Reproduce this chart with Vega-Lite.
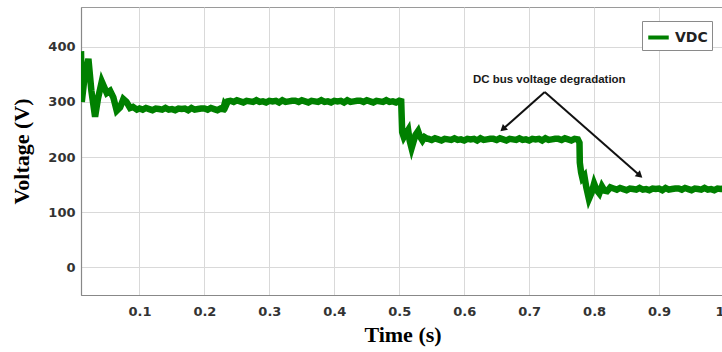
{
  "$schema": "https://vega.github.io/schema/vega-lite/v6.json",
  "width": 643,
  "height": 288,
  "autosize": {"type": "none"},
  "padding": {"left": 81, "top": 7, "right": 0, "bottom": 57},
  "background": "white",
  "config": {
    "view": {"stroke": "#9a9a9a", "strokeWidth": 1},
    "axis": {
      "grid": true,
      "gridColor": "#d9d9d9",
      "gridWidth": 1,
      "domainColor": "#888888",
      "domainWidth": 1.2,
      "ticks": false,
      "labelFont": "DejaVu Sans",
      "labelFontWeight": "bold",
      "labelFontSize": 13,
      "labelColor": "#333333",
      "titleFont": "Liberation Serif",
      "titleFontWeight": "bold",
      "titleFontSize": 22,
      "titleColor": "#000000"
    }
  },
  "datasets": {
    "vdc": [
      {"t": 0.0100, "v": 392}, {"t": 0.0112, "v": 300}, {"t": 0.0150, "v": 340}, {"t": 0.0214, "v": 378},
      {"t": 0.0260, "v": 320}, {"t": 0.0317, "v": 273}, {"t": 0.0360, "v": 305}, {"t": 0.0420, "v": 337},
      {"t": 0.0497, "v": 316}, {"t": 0.0548, "v": 320}, {"t": 0.0598, "v": 308}, {"t": 0.0650, "v": 284},
      {"t": 0.0702, "v": 290}, {"t": 0.0752, "v": 305}, {"t": 0.0800, "v": 300}, {"t": 0.0855, "v": 289},
      {"t": 0.0900, "v": 291}, {"t": 0.0960, "v": 286},
      {"t": 0.100, "v": 288}, {"t": 0.105, "v": 286}, {"t": 0.110, "v": 289}, {"t": 0.115, "v": 287},
      {"t": 0.120, "v": 285}, {"t": 0.125, "v": 288}, {"t": 0.130, "v": 287}, {"t": 0.135, "v": 286},
      {"t": 0.140, "v": 289}, {"t": 0.145, "v": 286}, {"t": 0.150, "v": 287}, {"t": 0.155, "v": 285},
      {"t": 0.160, "v": 288}, {"t": 0.165, "v": 287}, {"t": 0.170, "v": 288}, {"t": 0.175, "v": 285},
      {"t": 0.180, "v": 289}, {"t": 0.185, "v": 286}, {"t": 0.190, "v": 287}, {"t": 0.195, "v": 288},
      {"t": 0.200, "v": 288}, {"t": 0.205, "v": 286}, {"t": 0.210, "v": 289}, {"t": 0.215, "v": 287},
      {"t": 0.220, "v": 285}, {"t": 0.225, "v": 288}, {"t": 0.229, "v": 287},
      {"t": 0.231, "v": 296}, {"t": 0.233, "v": 293}, {"t": 0.236, "v": 301},
      {"t": 0.240, "v": 302}, {"t": 0.245, "v": 300}, {"t": 0.250, "v": 303}, {"t": 0.255, "v": 301},
      {"t": 0.260, "v": 299}, {"t": 0.265, "v": 302}, {"t": 0.270, "v": 301}, {"t": 0.275, "v": 300},
      {"t": 0.280, "v": 303}, {"t": 0.285, "v": 300}, {"t": 0.290, "v": 301}, {"t": 0.295, "v": 299},
      {"t": 0.300, "v": 302}, {"t": 0.305, "v": 301}, {"t": 0.310, "v": 302}, {"t": 0.315, "v": 299},
      {"t": 0.320, "v": 303}, {"t": 0.325, "v": 300}, {"t": 0.330, "v": 301}, {"t": 0.335, "v": 302},
      {"t": 0.340, "v": 302}, {"t": 0.345, "v": 300}, {"t": 0.350, "v": 303}, {"t": 0.355, "v": 301},
      {"t": 0.360, "v": 299}, {"t": 0.365, "v": 302}, {"t": 0.370, "v": 301}, {"t": 0.375, "v": 300},
      {"t": 0.380, "v": 303}, {"t": 0.385, "v": 300}, {"t": 0.390, "v": 301}, {"t": 0.395, "v": 299},
      {"t": 0.400, "v": 302}, {"t": 0.405, "v": 301}, {"t": 0.410, "v": 302}, {"t": 0.415, "v": 299},
      {"t": 0.420, "v": 303}, {"t": 0.425, "v": 300}, {"t": 0.430, "v": 301}, {"t": 0.435, "v": 302},
      {"t": 0.440, "v": 302}, {"t": 0.445, "v": 300}, {"t": 0.450, "v": 303}, {"t": 0.455, "v": 301},
      {"t": 0.460, "v": 299}, {"t": 0.465, "v": 302}, {"t": 0.470, "v": 301}, {"t": 0.475, "v": 300},
      {"t": 0.480, "v": 303}, {"t": 0.485, "v": 300}, {"t": 0.490, "v": 301}, {"t": 0.495, "v": 299},
      {"t": 0.500, "v": 302}, {"t": 0.503, "v": 301},
      {"t": 0.5045, "v": 245}, {"t": 0.507, "v": 236}, {"t": 0.510, "v": 242}, {"t": 0.5137, "v": 249},
      {"t": 0.516, "v": 230}, {"t": 0.519, "v": 216}, {"t": 0.522, "v": 228}, {"t": 0.525, "v": 240},
      {"t": 0.529, "v": 247}, {"t": 0.532, "v": 237}, {"t": 0.5357, "v": 230}, {"t": 0.539, "v": 236},
      {"t": 0.543, "v": 233},
      {"t": 0.545, "v": 233}, {"t": 0.550, "v": 231}, {"t": 0.555, "v": 234}, {"t": 0.560, "v": 232},
      {"t": 0.565, "v": 230}, {"t": 0.570, "v": 233}, {"t": 0.575, "v": 232}, {"t": 0.580, "v": 231},
      {"t": 0.585, "v": 234}, {"t": 0.590, "v": 231}, {"t": 0.595, "v": 232}, {"t": 0.600, "v": 230},
      {"t": 0.605, "v": 233}, {"t": 0.610, "v": 232}, {"t": 0.615, "v": 233}, {"t": 0.620, "v": 230},
      {"t": 0.625, "v": 234}, {"t": 0.630, "v": 231}, {"t": 0.635, "v": 232}, {"t": 0.640, "v": 233},
      {"t": 0.645, "v": 233}, {"t": 0.650, "v": 231}, {"t": 0.655, "v": 234}, {"t": 0.660, "v": 232},
      {"t": 0.665, "v": 230}, {"t": 0.670, "v": 233}, {"t": 0.675, "v": 232}, {"t": 0.680, "v": 231},
      {"t": 0.685, "v": 234}, {"t": 0.690, "v": 231}, {"t": 0.695, "v": 232}, {"t": 0.700, "v": 230},
      {"t": 0.705, "v": 233}, {"t": 0.710, "v": 232}, {"t": 0.715, "v": 233}, {"t": 0.720, "v": 230},
      {"t": 0.725, "v": 234}, {"t": 0.730, "v": 231}, {"t": 0.735, "v": 232}, {"t": 0.740, "v": 233},
      {"t": 0.745, "v": 233}, {"t": 0.750, "v": 231}, {"t": 0.755, "v": 234}, {"t": 0.760, "v": 232},
      {"t": 0.765, "v": 230}, {"t": 0.770, "v": 233}, {"t": 0.775, "v": 232},
      {"t": 0.7775, "v": 226}, {"t": 0.778, "v": 190}, {"t": 0.780, "v": 172}, {"t": 0.782, "v": 162},
      {"t": 0.785, "v": 166}, {"t": 0.788, "v": 145}, {"t": 0.792, "v": 124}, {"t": 0.796, "v": 135},
      {"t": 0.800, "v": 152}, {"t": 0.804, "v": 140}, {"t": 0.808, "v": 134}, {"t": 0.812, "v": 147},
      {"t": 0.816, "v": 139}, {"t": 0.820, "v": 138}, {"t": 0.825, "v": 145},
      {"t": 0.830, "v": 143}, {"t": 0.835, "v": 141}, {"t": 0.840, "v": 144}, {"t": 0.845, "v": 142},
      {"t": 0.850, "v": 140}, {"t": 0.855, "v": 143}, {"t": 0.860, "v": 142}, {"t": 0.865, "v": 141},
      {"t": 0.870, "v": 144}, {"t": 0.875, "v": 141}, {"t": 0.880, "v": 142}, {"t": 0.885, "v": 140},
      {"t": 0.890, "v": 143}, {"t": 0.895, "v": 142}, {"t": 0.900, "v": 143}, {"t": 0.905, "v": 140},
      {"t": 0.910, "v": 144}, {"t": 0.915, "v": 141}, {"t": 0.920, "v": 142}, {"t": 0.925, "v": 143},
      {"t": 0.930, "v": 143}, {"t": 0.935, "v": 141}, {"t": 0.940, "v": 144}, {"t": 0.945, "v": 142},
      {"t": 0.950, "v": 140}, {"t": 0.955, "v": 143}, {"t": 0.960, "v": 142}, {"t": 0.965, "v": 141},
      {"t": 0.970, "v": 144}, {"t": 0.975, "v": 141}, {"t": 0.980, "v": 142}, {"t": 0.985, "v": 140},
      {"t": 0.990, "v": 143}, {"t": 0.995, "v": 142}, {"t": 1.000, "v": 143}
    ],
    "arrows": [
      {"t": 0.724, "v": 318, "t2": 0.6596, "v2": 250.7},
      {"t": 0.724, "v": 318, "t2": 0.8704, "v2": 166.7}
    ],
    "note": [
      {"t": 0.731, "v": 340, "label": "DC bus voltage degradation"}
    ]
  },
  "layer": [
    {
      "data": {"name": "vdc"},
      "transform": [{"calculate": "'VDC'", "as": "series"}],
      "mark": {"type": "line", "strokeWidth": 6.5, "strokeJoin": "miter", "clip": true},
      "encoding": {
        "x": {
          "field": "t", "type": "quantitative",
          "scale": {"domain": [0.01, 1.0], "nice": false, "zero": false},
          "axis": {"values": [0.1, 0.2, 0.3, 0.4, 0.5, 0.6, 0.7, 0.8, 0.9, 1.0], "format": "~g", "title": "Time (s)", "labelPadding": 10, "titlePadding": 6}
        },
        "y": {
          "field": "v", "type": "quantitative",
          "scale": {"domain": [-50, 472], "nice": false, "zero": false},
          "axis": {"values": [0, 100, 200, 300, 400], "title": "Voltage (V)", "labelPadding": 6, "titlePadding": 14}
        },
        "color": {
          "field": "series", "type": "nominal",
          "scale": {"range": ["#008000"]},
          "legend": {
            "title": null, "orient": "none", "legendX": 561, "legendY": 14,
            "fillColor": "white", "strokeColor": "#8a8a8a", "padding": 4,
            "symbolType": "stroke", "symbolStrokeWidth": 4, "symbolSize": 420,
            "labelFont": "DejaVu Sans", "labelFontWeight": "bold", "labelFontSize": 14, "labelColor": "#222222"
          }
        }
      }
    },
    {
      "data": {"name": "arrows"},
      "mark": {"type": "rule", "color": "#111111", "strokeWidth": 2},
      "encoding": {
        "x": {"field": "t", "type": "quantitative"},
        "y": {"field": "v", "type": "quantitative"},
        "x2": {"field": "t2"},
        "y2": {"field": "v2"}
      }
    },
    {
      "data": {"name": "arrows"},
      "transform": [{"filter": "datum.t2 < 0.7"}],
      "mark": {"type": "point", "shape": "triangle-up", "filled": true, "color": "#111111", "size": 60, "angle": 228.5, "opacity": 1},
      "encoding": {
        "x": {"field": "t2", "type": "quantitative"},
        "y": {"field": "v2", "type": "quantitative"}
      }
    },
    {
      "data": {"name": "arrows"},
      "transform": [{"filter": "datum.t2 > 0.7"}],
      "mark": {"type": "point", "shape": "triangle-up", "filled": true, "color": "#111111", "size": 60, "angle": 131.2, "opacity": 1},
      "encoding": {
        "x": {"field": "t2", "type": "quantitative"},
        "y": {"field": "v2", "type": "quantitative"}
      }
    },
    {
      "data": {"name": "note"},
      "mark": {"type": "text", "font": "Liberation Sans", "fontWeight": "bold", "fontSize": 11.5, "color": "#1a1a1a", "baseline": "middle", "align": "center"},
      "encoding": {
        "x": {"field": "t", "type": "quantitative"},
        "y": {"field": "v", "type": "quantitative"},
        "text": {"field": "label"}
      }
    }
  ]
}
